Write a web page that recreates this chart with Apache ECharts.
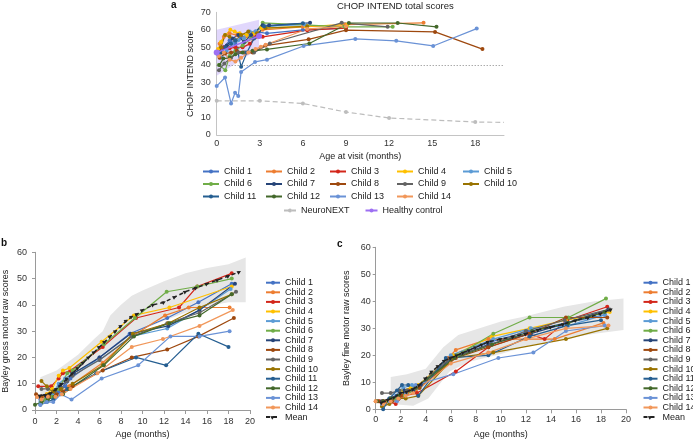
<!DOCTYPE html>
<html>
<head>
<meta charset="utf-8">
<script src="https://cdn.jsdelivr.net/npm/echarts@6/dist/echarts.min.js"></script>
<style>
  html, body { margin: 0; padding: 0; background: #fff; }
  #main { width: 693px; height: 441px; }
</style>
</head>
<body>
<div id="main"></div>
<script>
// names and colours of the children
var childNames = ['Child 1', 'Child 2', 'Child 3', 'Child 4', 'Child 5', 'Child 6', 'Child 7',
    'Child 8', 'Child 9', 'Child 10', 'Child 11', 'Child 12', 'Child 13', 'Child 14'];
var childColors = ['#4472c4', '#ed7d31', '#d3261a', '#ffc000', '#5b9bd5', '#70ad47', '#264478',
    '#9e480e', '#636363', '#997300', '#255e91', '#43682b', '#6a92d6', '#f1975a'];

// panel a: CHOP INTEND scores, [age (months), score]
var chopScores = [
    [[0.1, 46], [0.5, 50], [0.9, 54], [1.3, 52], [1.7, 56], [2.2, 57], [2.7, 59], [3.5, 58], [6.0, 60], [9.0, 61]],
    [[0.2, 52], [0.5, 56], [0.9, 58], [1.4, 57], [1.9, 55], [2.5, 57], [3.2, 60], [6.0, 61.7], [8.95, 63], [14.4, 64]],
    [[0.2, 49], [0.5, 50], [0.9, 49.5], [1.3, 50], [1.8, 50], [2.3, 52], [2.75, 56], [3.2, 56], [6.3, 59.8], [9.0, 61]],
    [[0.1, 49], [0.3, 53], [0.6, 57], [0.95, 60], [1.25, 59], [1.6, 58], [2.1, 57], [2.6, 58], [3.1, 61], [6.2, 62], [9.1, 63]],
    [[0.3, 44], [0.7, 48], [1.1, 52], [1.5, 54], [1.9, 55], [2.3, 59], [2.7, 59], [3.3, 62], [6.1, 63]],
    [[0.15, 40], [0.6, 37], [0.9, 45], [1.3, 48], [1.8, 51], [2.4, 55], [3.2, 64], [8.9, 61.7], [12.25, 61.7]],
    [[0.3, 47], [0.7, 51], [1.1, 55], [1.5, 57], [1.9, 53], [2.4, 57], [3.2, 62.6], [3.65, 62.6], [6.5, 64]],
    [[0.2, 44], [0.58, 46.5], [1.0, 47], [1.4, 48], [1.9, 47], [2.5, 47], [3.4, 51], [6.4, 54.6], [9.0, 59.8], [15.2, 58.8], [18.5, 49]],
    [[0.16, 37], [0.53, 40.8], [1.0, 44], [1.5, 47], [2.0, 47], [2.6, 47], [3.7, 52.2], [8.7, 64], [11.9, 61.7]],
    [[0.3, 50], [0.58, 57], [0.9, 56], [1.3, 54], [1.7, 57], [2.2, 59], [2.8, 58], [3.4, 61], [6.3, 62]],
    [[0.2, 47], [0.6, 50], [1.0, 52], [1.3, 54], [1.7, 38.9], [2.1, 47], [2.6, 55], [3.3, 62], [6.0, 63.7]],
    [[0.2, 40], [0.46, 43.6], [0.9, 44], [1.3, 46], [1.8, 47], [2.5, 48], [3.5, 48.8], [6.45, 52.2], [9.2, 63.9], [12.6, 63.9], [15.3, 61.7]],
    [[0, 27.9], [0.58, 32.8], [1.0, 18], [1.28, 24.1], [1.5, 22.2], [1.7, 36], [2.67, 41.7], [3.5, 43], [6.05, 50.8], [9.65, 54.8], [12.5, 53.7], [15.07, 50.8], [18.1, 60.7]],
    [[0.15, 45], [0.5, 47], [0.9, 43], [1.3, 42], [1.7, 44], [2.2, 47], [2.7, 49], [3.07, 50.3], [3.4, 51.5], [6.3, 60.5], [9.0, 62]]
];
var neuroAges = [0, 3, 6, 9, 12, 18, 20];
var neuroScores = [19.5, 19.5, 18, 13.1, 9.7, 7.4, 7.2];
var healthyLine = [[0, 47], [2.95, 56.5]];
var healthyBandUpper = [[0, 60], [2.95, 65.8]];
var healthyBandLower = [[0, 33.8], [2.95, 49.3]];

// panel b: Bayley gross motor raw scores
var grossScores = [
    [[0.5, 4], [1, 4], [1.7, 5], [2.2, 7], [2.8, 9], [3.3, 12], [6, 20], [8.8, 29], [12.3, 35], [15.2, 41], [18.3, 48]],
    [[0.2, 5], [0.6, 5], [1.1, 6], [1.7, 6], [2.5, 7], [3.2, 9], [6.3, 18], [9, 28], [12.1, 36], [14.3, 39], [18.1, 39]],
    [[0.3, 9], [1.5, 9], [2.2, 12], [2.6, 14], [3.3, 15], [6.3, 24], [9.4, 35], [13.4, 39], [15.1, 47], [18.3, 52]],
    [[0.6, 5], [1.1, 6], [1.6, 8], [2.2, 13], [2.6, 15], [3.2, 16], [6.2, 26], [9.2, 36], [12.5, 39], [18.3, 47]],
    [[0.5, 3], [1, 4], [1.6, 6], [2.2, 10], [2.8, 12], [3.5, 14], [6, 19], [9, 28], [12.3, 31], [15.3, 38], [18.2, 46]],
    [[0.6, 3], [1, 4], [1.6, 5], [2.2, 8], [3, 14], [3.5, 15], [6.4, 25], [9.3, 35], [12.25, 45], [15.1, 47], [18.3, 50]],
    [[0.5, 5], [1.1, 5], [1.7, 7], [2.3, 9], [3, 11], [3.6, 14], [6, 20], [8.9, 29], [12.4, 32], [15.3, 38], [18.6, 48]],
    [[0.1, 6], [0.6, 5], [1.3, 5], [2, 6], [2.6, 7], [3.5, 9], [6.3, 15], [9, 20], [12.3, 23], [15.2, 28], [18.5, 35]],
    [[0.6, 8], [1.2, 8], [1.8, 7], [2.4, 8], [3, 11], [3.5, 13], [6, 19], [9, 28], [12.3, 33], [15.3, 37], [18.7, 45]],
    [[0.6, 11], [1.1, 9], [1.7, 7], [2.4, 8], [3.5, 10], [6.3, 17], [9.1, 29], [12.4, 33], [15.3, 39], [18.3, 44]],
    [[0.5, 2], [1.1, 3], [1.7, 4], [2.4, 6], [3, 8], [5.7, 14], [9.4, 20], [12.2, 17], [15.2, 29], [18, 24]],
    [[0, 2], [0.6, 3], [1.2, 4], [1.8, 5], [2.6, 6], [3.2, 8], [6.4, 17], [9.2, 28], [12.5, 33], [15.3, 36], [18.3, 44]],
    [[0.5, 2], [1.1, 3], [1.7, 3], [2.4, 6], [3.4, 4], [6.2, 12], [9.6, 17], [12.6, 28], [15.3, 28], [18.1, 30]],
    [[0.2, 5], [0.6, 4], [1.2, 5], [1.9, 5], [2.5, 6], [3.3, 8], [5.8, 14], [9, 24], [11.9, 27], [15.3, 32], [18.4, 38]]
];
var grossMean = [[0.5, 5.5], [1, 5.8], [1.5, 6.5], [2, 8], [2.5, 10], [3, 12], [3.5, 14], [4, 16], [4.5, 18], [5, 20],
    [5.5, 22], [6, 24], [6.5, 26], [7, 28], [7.5, 30], [8, 32], [8.5, 34], [9, 35.5], [9.5, 36.5], [10, 38], [11, 40],
    [12, 41], [13, 43], [14, 45], [15, 46.5], [16, 48], [17, 49.5], [18, 51], [19, 52.5]];
var grossBandUpper = [[0.5, 12.5], [2, 15], [4, 21], [5.5, 27], [6.3, 30], [7, 36], [8, 40], [9, 43.5], [10, 45.5],
    [12, 49], [14, 52], [16, 54], [18, 55.5], [19.6, 58]];
var grossBandLower = [[0.5, 2.5], [1.5, 5], [3, 7], [4, 10], [5.5, 15], [6.5, 18], [7.5, 23], [9, 28.5], [10.5, 31.5],
    [12, 34], [14, 37], [16, 39.5], [18, 41], [19.6, 41]];

// panel c: Bayley fine motor raw scores
var fineScores = [
    [[0.5, 2], [1, 3], [1.6, 4], [2.2, 7], [2.9, 8], [3.4, 8], [5.8, 19], [6.4, 20], [9.2, 25], [12.3, 29], [15.2, 32], [18.3, 35]],
    [[0, 3], [0.6, 3], [1.2, 3], [1.9, 5], [2.5, 6], [3.2, 7], [5.8, 19], [6.4, 22], [9, 26], [12, 26], [14.3, 26], [18.2, 32]],
    [[0.3, 3], [0.9, 3], [1.6, 2], [2.2, 5], [3.3, 6], [6.4, 14], [9, 23], [12.2, 28], [13.5, 26], [15.3, 33], [18.5, 38]],
    [[0.5, 2], [1, 3], [1.6, 4], [2.2, 7], [2.8, 8], [3.4, 9], [6.2, 20], [9.3, 27], [12.3, 30], [15.2, 33], [18.7, 36]],
    [[0.5, 2], [1.1, 3], [1.6, 5], [2.2, 8], [2.9, 9], [3.5, 8], [6, 20], [9.4, 26], [12.4, 30], [15.4, 31], [18.3, 35]],
    [[0.6, 2], [1, 3], [1.6, 4], [2.3, 5], [3, 7], [3.5, 8], [6.5, 20], [9.4, 28], [12.3, 34], [15.4, 34], [18.4, 41]],
    [[0.5, 3], [1.1, 4], [1.7, 5], [2.3, 7], [3, 7], [3.6, 9], [6.1, 19], [9, 24], [12.4, 28], [15.3, 32], [18.6, 37]],
    [[0.2, 3], [0.6, 3], [1.3, 3], [2, 5], [2.6, 7], [3.5, 8], [6.4, 19], [9, 23], [12.3, 28], [15.2, 34], [18.5, 34]],
    [[0.5, 6], [1.2, 6], [1.9, 7], [2.5, 7], [3.2, 8], [6, 19], [9.2, 24], [12, 29], [15.1, 33], [18.7, 37]],
    [[0.5, 1], [1.1, 2], [1.8, 4], [2.4, 4], [3.4, 5], [6.2, 19], [9.4, 21], [15.2, 26], [18.5, 30]],
    [[0.6, 0], [1.1, 4], [1.7, 7], [2.1, 9], [2.6, 9], [3.4, 5], [5.6, 19], [9, 20], [12.3, 27], [15.3, 31], [18, 33]],
    [[0.1, 3], [0.6, 3], [1.2, 4], [1.8, 5], [2.4, 6], [3.2, 8], [6.3, 19], [9.3, 24], [12.5, 29], [15.4, 32], [18.3, 36]],
    [[0.5, 2], [1.1, 3], [1.7, 3], [2.4, 6], [3.2, 9], [6.2, 13], [9.8, 19], [12.6, 21], [15.2, 29], [18.3, 31]],
    [[0, 3], [0.6, 2], [1.2, 3], [1.8, 4], [2.4, 5], [3, 6], [6, 17], [9, 21], [12, 26], [15.2, 30], [18.6, 31]]
];
var fineMean = [[0.5, 2.5], [1, 3.5], [1.5, 4.5], [2, 6], [2.5, 6.5], [3, 7.5], [3.5, 9], [4, 11.5], [4.5, 14], [5, 16],
    [5.5, 18], [6, 19], [6.5, 20], [7, 21], [7.5, 22], [8, 23], [8.5, 24], [9, 25], [10, 26], [11, 27], [12, 28],
    [13, 29.5], [14, 30.5], [15, 31.5], [16, 33], [17, 34], [18, 35.5], [18.8, 37]];
var fineBandUpper = [[1.2, 12], [2.5, 13], [4, 15], [5.4, 23], [6.6, 27.5], [8.3, 30], [10, 32.5], [12, 34.5],
    [15, 38], [17.5, 40], [19.8, 41]];
var fineBandLower = [[1.2, 2], [3, 1.3], [4.2, 4], [5.9, 14], [7.5, 17.6], [10, 20.5], [12.2, 23.5], [15, 26],
    [17.5, 28], [19.8, 29.4]];

var FONT = 'Liberation Sans';

function childSeries(name, color, data, idx) {
    return {
        name: name,
        type: 'line',
        xAxisIndex: idx,
        yAxisIndex: idx,
        data: data,
        symbol: 'circle',
        symbolSize: 4,
        color: color,
        lineStyle: { width: 1.2, color: color },
        itemStyle: { color: color },
        z: 3,
        animation: false
    };
}

// grey / lavender range drawn as one polygon
function bandSeries(upper, lower, idx, fill) {
    return {
        type: 'custom',
        xAxisIndex: idx,
        yAxisIndex: idx,
        data: upper,
        silent: true,
        z: 1,
        animation: false,
        renderItem: function (params, api) {
            if (params.dataIndex !== 0) return null;
            var pts = [];
            upper.forEach(function (p) { pts.push(api.coord(p)); });
            lower.slice().reverse().forEach(function (p) { pts.push(api.coord(p)); });
            return { type: 'polygon', shape: { points: pts }, style: { fill: fill } };
        }
    };
}

function meanSeries(data, idx) {
    return {
        name: 'Mean',
        type: 'line',
        xAxisIndex: idx,
        yAxisIndex: idx,
        data: data,
        symbol: 'triangle',
        symbolSize: 4,
        symbolRotate: -60,
        color: '#222',
        lineStyle: { width: 1.5, type: [4, 3], color: '#222' },
        itemStyle: { color: '#222' },
        z: 4,
        animation: false
    };
}

var series = [];
series.push(bandSeries(healthyBandUpper, healthyBandLower, 0, 'rgba(170,140,245,0.35)'));
series.push(bandSeries(grossBandUpper, grossBandLower, 1, '#e6e6e6'));
series.push(bandSeries(fineBandUpper, fineBandLower, 2, '#e6e6e6'));

for (var i = 0; i < childNames.length; i++) {
    series.push(childSeries(childNames[i], childColors[i], chopScores[i], 0));
    series.push(childSeries(childNames[i], childColors[i], grossScores[i], 1));
    series.push(childSeries(childNames[i], childColors[i], fineScores[i], 2));
}

var neuroData = neuroAges.map(function (a, k) {
    return a === 20 ? { value: [a, neuroScores[k]], symbolSize: 0 } : [a, neuroScores[k]];
});
series.push({
    name: 'NeuroNEXT',
    type: 'line',
    xAxisIndex: 0,
    yAxisIndex: 0,
    data: neuroData,
    symbol: 'circle',
    symbolSize: 4,
    color: '#bdbdbd',
    lineStyle: { width: 1.2, type: [5, 3], color: '#bdbdbd' },
    itemStyle: { color: '#bdbdbd' },
    z: 2,
    animation: false,
    markLine: {
        silent: true,
        symbol: 'none',
        label: { show: false },
        lineStyle: { type: [1, 2], color: '#666', width: 0.8 },
        data: [{ yAxis: 40 }]
    }
});
series.push({
    name: 'Healthy control',
    type: 'line',
    xAxisIndex: 0,
    yAxisIndex: 0,
    data: healthyLine,
    symbol: 'circle',
    symbolSize: 6,
    color: '#9d6ff2',
    lineStyle: { width: 1.5, color: '#9d6ff2' },
    itemStyle: { color: '#9d6ff2' },
    z: 4,
    animation: false
});
series.push(meanSeries(grossMean, 1));
series.push(meanSeries(fineMean, 2));

function xAxisOf(idx, interval, name, nameGap, lineColor, ticks, margin) {
    return {
        type: 'value', gridIndex: idx, min: 0, max: 20, interval: interval,
        name: name, nameLocation: 'middle', nameGap: nameGap,
        nameTextStyle: { fontFamily: FONT, fontSize: 9, color: '#222' },
        axisLine: { show: true, lineStyle: { color: lineColor, width: 1 } },
        axisTick: { show: ticks, length: 4, lineStyle: { color: lineColor } },
        splitLine: { show: false },
        axisLabel: {
            fontFamily: FONT, fontSize: 9, color: '#333', margin: margin,
            formatter: function (v) { return v % interval === 0 ? String(v) : ''; }
        }
    };
}

function yAxisOf(idx, max, name, nameGap, lineColor, ticks, margin) {
    return {
        type: 'value', gridIndex: idx, min: 0, max: max, interval: 10,
        name: name, nameLocation: 'middle', nameGap: nameGap,
        nameTextStyle: { fontFamily: FONT, fontSize: 9, color: '#222' },
        axisLine: { show: true, lineStyle: { color: lineColor, width: 1 } },
        axisTick: { show: ticks, length: 3, lineStyle: { color: lineColor } },
        splitLine: { show: false },
        axisLabel: { fontFamily: FONT, fontSize: 9, color: '#333', margin: margin }
    };
}

var legendText = { fontFamily: FONT, fontSize: 9, color: '#222', lineHeight: 12 };
function legendCol(names, left) {
    return {
        data: names, orient: 'vertical', left: left, top: 165.5,
        itemWidth: 16, itemHeight: 5, itemGap: 0.5, padding: 0,
        textStyle: legendText
    };
}
var smallText = { fontFamily: FONT, fontSize: 9, color: '#222', lineHeight: 9.6 };
function legendSide(left) {
    return {
        data: childNames.concat(['Mean']), orient: 'vertical', left: left, top: 277.9,
        itemWidth: 14, itemHeight: 5, itemGap: 0, padding: 0,
        textStyle: smallText
    };
}

var option = {
    backgroundColor: '#fff',
    animation: false,
    title: [
        { text: 'CHOP INTEND total scores', left: 337, top: 1, padding: 0,
          textStyle: { fontFamily: FONT, fontSize: 9.5, fontWeight: 'normal', color: '#222' } },
        { text: 'a', left: 171, top: 0, padding: 0,
          textStyle: { fontFamily: FONT, fontSize: 10, fontWeight: 'bold', color: '#111' } },
        { text: 'b', left: 1, top: 238, padding: 0,
          textStyle: { fontFamily: FONT, fontSize: 10, fontWeight: 'bold', color: '#111' } },
        { text: 'c', left: 337, top: 239, padding: 0,
          textStyle: { fontFamily: FONT, fontSize: 10, fontWeight: 'bold', color: '#111' } }
    ],
    grid: [
        { left: 216.7, top: 12.3, width: 287.3, height: 122.7 },
        { left: 33.3, top: 252.3, width: 216.7, height: 157.7 },
        { left: 375.7, top: 247.3, width: 250.3, height: 162 }
    ],
    xAxis: [
        xAxisOf(0, 3, 'Age at visit (months)', 17, '#c4c4c4', false, 4),
        xAxisOf(1, 2, 'Age (months)', 20, '#9a9a9a', true, 7),
        xAxisOf(2, 2, 'Age (months)', 20.5, '#9a9a9a', true, 6)
    ],
    yAxis: [
        yAxisOf(0, 70, 'CHOP INTEND score', 21.5, '#c4c4c4', false, 6),
        yAxisOf(1, 60, 'Bayley gross motor raw scores', 25, '#9a9a9a', true, 8),
        yAxisOf(2, 60, 'Bayley fine motor raw scores', 25, '#9a9a9a', true, 5)
    ],
    legend: [
        legendCol(['Child 1', 'Child 6', 'Child 11'], 202),
        legendCol(['Child 2', 'Child 7', 'Child 12'], 265),
        legendCol(['Child 3', 'Child 8', 'Child 13'], 329),
        legendCol(['Child 4', 'Child 9', 'Child 14'], 396),
        legendCol(['Child 5', 'Child 10'], 462),
        {
            data: ['NeuroNEXT', 'Healthy control'], orient: 'horizontal', left: 283, top: 204.5,
            itemWidth: 12, itemHeight: 5, itemGap: 15, padding: 0, textStyle: legendText
        },
        legendSide(265),
        legendSide(642.5)
    ],
    series: series
};

var chart = echarts.init(document.getElementById('main'));
chart.setOption(option);
</script>
</body>
</html>
